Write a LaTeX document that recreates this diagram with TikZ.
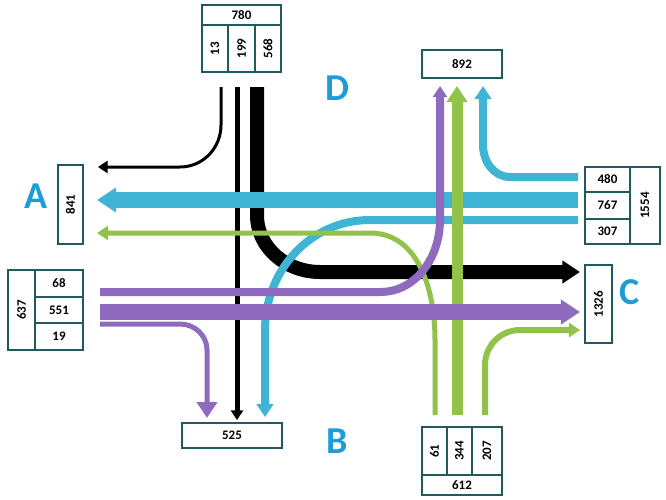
\documentclass[tikz,border=0pt]{standalone}
\usepackage{fontspec}
\setmainfont{Carlito}
\usetikzlibrary{arrows.meta}
\definecolor{flowcyan}{HTML}{3FB4D4}
\definecolor{flowgreen}{HTML}{92C24A}
\definecolor{flowpurple}{HTML}{8E6BBF}
\definecolor{boxline}{HTML}{1F5A60}
\definecolor{letterblue}{HTML}{1E9CD8}
\begin{document}
\begin{tikzpicture}[x=1pt,y=-1pt,
    cell/.style={draw=boxline,line width=1.2pt,inner sep=0pt,font=\bfseries\fontsize{13}{13}\selectfont},
    big/.style={text=letterblue,font=\bfseries\fontsize{38}{38}\selectfont},
    tip/.style={-{Triangle[width=#1,length=0.8*#1]}},
    tip/.default=14pt]
\useasboundingbox (0,0) rectangle (666,499);
% D approach
\draw[line width=3pt,tip=12pt] (221,87) -- (221,125) to[out=-90,in=0] (180,167) -- (98,167);
\draw[line width=5pt,tip=12pt] (237,87) -- (237,420);
\draw[line width=14pt,tip=22pt] (257,87) -- (257,215) to[out=-90,in=180] (320,272) -- (580,272);
% C approach
\draw[flowcyan,line width=8pt,tip=16pt] (578,177) -- (510,177) to[out=180,in=-90] (483,145) -- (483,86);
\draw[flowcyan,line width=16pt,tip=24pt] (578,200) -- (97,200);
\draw[flowcyan,line width=8pt,tip=16pt] (578,220) -- (370,220) to[out=180,in=90] (265,330) -- (265,417);
% B approach
\draw[flowgreen,line width=5pt,tip=14pt] (435,415) -- (435,340) to[out=90,in=0] (370,233) -- (97,233);
\draw[flowgreen,line width=11pt,tip=20pt] (457,415) -- (457,86);
\draw[flowgreen,line width=6pt,tip=14pt] (485,415) -- (485,365) to[out=90,in=180] (520,330) -- (580,330);
% A approach
\draw[flowpurple,line width=8pt,tip=14pt] (100,292) -- (380,292) to[out=0,in=-90] (440,220) -- (440,86);
\draw[flowpurple,line width=16pt,tip=24pt] (100,312) -- (580,312);
\draw[flowpurple,line width=5pt,tip=20pt] (100,324) -- (180,324) to[out=0,in=90] (207,350) -- (207,418);
% D counts
\node[cell,minimum width=79pt,minimum height=20pt] (dtot) at (241.5,15) {780};
\node[cell,minimum width=26pt,minimum height=47pt] (dl) at (215,48.5) {\rotatebox{90}{13}};
\node[cell,minimum width=27pt,minimum height=47pt] (dt) at (241.5,48.5) {\rotatebox{90}{199}};
\node[cell,minimum width=26pt,minimum height=47pt] (dr) at (268,48.5) {\rotatebox{90}{568}};
\node[cell,minimum width=80pt,minimum height=28pt] (dout) at (462,64) {892};
% A counts
\node[cell,minimum width=25pt,minimum height=79pt] (aout) at (70.5,204.5) {\rotatebox{90}{841}};
\node[cell,minimum width=27pt,minimum height=80pt] (atot) at (21.5,310) {\rotatebox{90}{637}};
\node[cell,minimum width=48pt,minimum height=27pt] (al) at (59,283.5) {68};
\node[cell,minimum width=48pt,minimum height=26pt] (at) at (59,310) {551};
\node[cell,minimum width=48pt,minimum height=27pt] (ar) at (59,336.5) {19};
% C counts
\node[cell,minimum width=45pt,minimum height=25pt] (cr) at (607.5,179.5) {480};
\node[cell,minimum width=45pt,minimum height=27pt] (ct) at (607.5,205.5) {767};
\node[cell,minimum width=45pt,minimum height=25pt] (cl) at (607.5,231.5) {307};
\node[cell,minimum width=30pt,minimum height=77pt] (ctot) at (645,205.5) {\rotatebox{90}{1554}};
\node[cell,minimum width=27pt,minimum height=78pt] (cout) at (598.5,304) {\rotatebox{90}{1326}};
% B counts
\node[cell,minimum width=100pt,minimum height=25pt] (bout) at (232,435.5) {525};
\node[cell,minimum width=25pt,minimum height=48pt] (bl) at (434.5,451) {\rotatebox{90}{61}};
\node[cell,minimum width=25pt,minimum height=48pt] (bt) at (459.5,451) {\rotatebox{90}{344}};
\node[cell,minimum width=30pt,minimum height=48pt] (br) at (487,451) {\rotatebox{90}{207}};
\node[cell,minimum width=80pt,minimum height=20pt] (btot) at (462,485) {612};
% approach letters
\node[big] (A) at (36,196) {A};
\node[big] (B) at (337,441) {B};
\node[big] (C) at (630,292) {C};
\node[big] (D) at (337,88) {D};
\end{tikzpicture}
\end{document}
